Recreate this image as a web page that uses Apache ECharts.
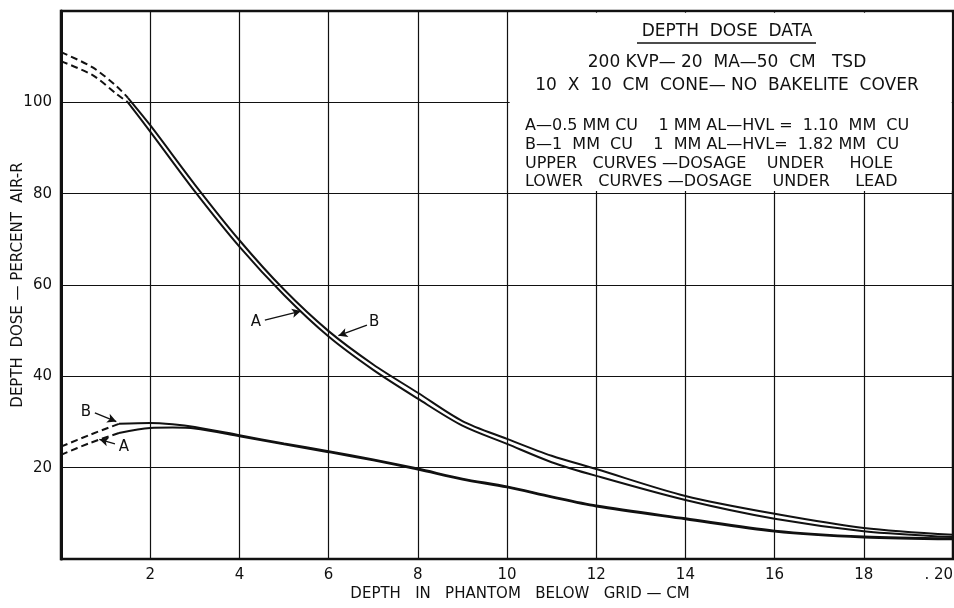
<!DOCTYPE html>
<html>
<head>
    <meta charset="utf-8">
    <title>Depth Dose Data</title>
    <script src="https://cdn.jsdelivr.net/npm/echarts@6/dist/echarts.min.js"></script>
    <style>
        html, body { margin: 0; padding: 0; background: #fff; }
        #chart1 { width: 954px; height: 608px; }
    </style>
</head>
<body>
<div id="chart1"></div>
<script type="text/javascript">
    // depth (cm) for the solid parts of the curves
    var depthUpper = [1.5, 2, 3, 4, 5, 6, 7, 8, 9, 10, 11, 12, 14, 16, 18, 20];
    var upperA = [100, 93.6, 80.5, 68.4, 57.8, 48.7, 41.4, 35.1, 29.2, 25.2, 21.2, 18.2, 12.9, 8.8, 6.1, 4.8];
    var upperB = [101, 95, 82, 69.8, 59, 49.9, 42.6, 36.4, 30.2, 26.3, 22.6, 19.7, 13.8, 9.9, 6.8, 5.3];

    var depthLower = [1.3, 2, 2.5, 3, 4, 5, 6, 7, 8, 9, 10, 11, 12, 14, 16, 18, 20];
    var lowerA = [27.6, 28.7, 28.8, 28.6, 26.9, 25.1, 23.4, 21.6, 19.6, 17.4, 15.7, 13.5, 11.5, 8.7, 6.0, 4.7, 4.3];
    var lowerB = [29.6, 29.8, 29.5, 28.9, 27.1, 25.3, 23.6, 21.8, 19.8, 17.6, 15.9, 13.7, 11.7, 8.9, 6.2, 4.9, 4.5];

    // extrapolated (dashed) parts near the surface
    var depthUpperDash = [0, 0.7, 1.25, 1.5];
    var upperADash = [109, 106, 101.8, 100];
    var upperBDash = [111, 107.7, 103.5, 101];
    var depthLowerDash = [0, 0.65, 1.3];
    var lowerADash = [22.8, 25.4, 27.6];
    var lowerBDash = [24.6, 27.2, 29.6];

    var boxLines = [
        'A—0.5 MM CU    1 MM AL—HVL =  1.10  MM  CU',
        'B—1  MM  CU    1  MM AL—HVL=  1.82 MM  CU',
        'UPPER   CURVES —DOSAGE    UNDER     HOLE',
        'LOWER   CURVES —DOSAGE    UNDER     LEAD'
    ];

    var FONT = '"DejaVu Sans", sans-serif';
    var INK = '#111';

    function pairs(xs, ys) {
        return xs.map(function (x, i) { return [x, ys[i]]; });
    }

    function curve(name, xs, ys, dashed) {
        return {
            name: name,
            type: 'line',
            data: pairs(xs, ys),
            smooth: 0.3,
            showSymbol: false,
            silent: true,
            lineStyle: { color: INK, width: 2, type: dashed ? [7, 4] : 'solid' },
            z: 3
        };
    }

    function arrow(from, to) {
        return [{ coord: from }, { coord: to }];
    }

    var myChart = echarts.init(document.getElementById('chart1'));

    var series = [
        curve('upper A', depthUpper, upperA, false),
        curve('upper B', depthUpper, upperB, false),
        curve('lower A', depthLower, lowerA, false),
        curve('lower B', depthLower, lowerB, false),
        curve('upper A dash', depthUpperDash, upperADash, true),
        curve('upper B dash', depthUpperDash, upperBDash, true),
        curve('lower A dash', depthLowerDash, lowerADash, true),
        curve('lower B dash', depthLowerDash, lowerBDash, true)
    ];

    // white panel for the legend text, and the A / B pointers
    series.push({
        type: 'line',
        data: [],
        silent: true,
        z: 2,
        markArea: {
            silent: true,
            itemStyle: { color: '#fff' },
            data: [[{ coord: [10.06, 80.6] }, { coord: [19.97, 119.6] }]]
        }
    });
    series.push({
        type: 'line',
        data: [],
        silent: true,
        z: 4,
        markLine: {
            silent: true,
            symbol: ['none', 'arrow'],
            symbolSize: [7, 9],
            label: { show: false },
            lineStyle: { color: INK, width: 1.3, type: 'solid' },
            data: [
                arrow([4.57, 52.3], [5.38, 54.3]),
                arrow([6.86, 51.2], [6.22, 48.9]),
                arrow([0.76, 32], [1.24, 30.1]),
                arrow([1.21, 25.2], [0.86, 26.2])
            ]
        },
        markPoint: {
            silent: true,
            symbol: 'circle',
            symbolSize: 0,
            label: {
                show: true,
                color: INK,
                fontFamily: FONT,
                fontSize: 15,
                formatter: '{b}'
            },
            data: [
                { name: 'A', coord: [4.37, 51.9] },
                { name: 'B', coord: [7.02, 51.9] },
                { name: 'B', coord: [0.56, 32.1] },
                { name: 'A', coord: [1.41, 24.4] }
            ]
        }
    });

    var graphics = [
        {
            type: 'text', x: 727, y: 32, z: 100,
            style: { text: 'DEPTH  DOSE  DATA', font: '17px ' + FONT, fill: INK, align: 'center', verticalAlign: 'middle' }
        },
        {
            type: 'line', z: 100, shape: { x1: 637, y1: 43, x2: 816, y2: 43 },
            style: { stroke: INK, lineWidth: 1.3 }
        },
        {
            type: 'text', x: 727, y: 63, z: 100,
            style: { text: '200 KVP— 20  MA—50  CM   TSD', font: '17px ' + FONT, fill: INK, align: 'center', verticalAlign: 'middle' }
        },
        {
            type: 'text', x: 727, y: 86, z: 100,
            style: { text: '10  X  10  CM  CONE— NO  BAKELITE  COVER', font: '17px ' + FONT, fill: INK, align: 'center', verticalAlign: 'middle' }
        }
    ];
    var lineY = [126, 145, 164, 182];
    boxLines.forEach(function (t, i) {
        graphics.push({
            type: 'text', x: 525, y: lineY[i], z: 100,
            style: { text: t, font: '16px ' + FONT, fill: INK, align: 'left', verticalAlign: 'middle' }
        });
    });

    var option = {
        backgroundColor: '#fff',
        animation: false,
        grid: {
            left: 61, right: 1, top: 11, bottom: 49,
            outerBoundsMode: 'none',
            containLabel: false,
            show: true, borderColor: INK, borderWidth: 2.5, backgroundColor: 'transparent'
        },
        xAxis: {
            type: 'value',
            min: 0, max: 20, interval: 2,
            name: 'DEPTH   IN   PHANTOM   BELOW   GRID — CM',
            nameLocation: 'middle',
            nameGap: 28,
            nameMoveOverlap: false,
            nameTextStyle: { color: INK, fontFamily: FONT, fontSize: 15, padding: [0, 0, 0, 26] },
            axisLine: { show: false },
            axisTick: { show: false },
            axisLabel: {
                color: INK, fontFamily: FONT, fontSize: 15, margin: 9,
                alignMaxLabel: 'right',
                formatter: function (v) { return v === 0 ? '' : (v === 20 ? '. 20' : String(v)); }
            },
            splitLine: { show: true, lineStyle: { color: INK, width: 1.2 } }
        },
        yAxis: {
            type: 'value',
            min: 0, max: 120, interval: 20,
            name: 'DEPTH  DOSE — PERCENT  AIR-R',
            nameLocation: 'middle',
            nameGap: 35,
            nameMoveOverlap: false,
            nameTextStyle: { color: INK, fontFamily: FONT, fontSize: 15 },
            axisLine: { show: true, lineStyle: { color: INK, width: 3 } },
            axisTick: { show: false },
            axisLabel: {
                color: INK, fontFamily: FONT, fontSize: 15, margin: 9,
                formatter: function (v) { return (v === 0 || v === 120) ? '' : String(v); }
            },
            splitLine: { show: true, lineStyle: { color: INK, width: 1.2 } }
        },
        graphic: graphics,
        series: series
    };
    myChart.setOption(option);
</script>
</body>
</html>
